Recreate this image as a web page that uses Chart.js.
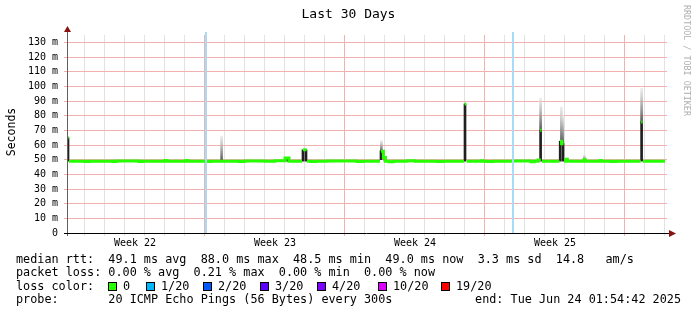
<!DOCTYPE html>
<html>
<head>
<meta charset="utf-8">
<script src="https://cdn.jsdelivr.net/npm/chart.js@4.4.1/dist/chart.umd.min.js"></script>
<style>
html, body { margin: 0; padding: 0; background: #fff; }
#wrap { position: relative; width: 697px; height: 315px; overflow: hidden; font-family: "DejaVu Sans Mono", monospace; color: #000; }
#c { position: absolute; left: 0; top: 0; }
.t { position: absolute; white-space: pre; line-height: 14px; font-size: 11.8px; }
.box { position: absolute; width: 7px; height: 7px; border: 1px solid #000; }
</style>
</head>
<body>
<div id="wrap">
  <canvas id="c" width="697" height="315"></canvas>
  <div class="t" style="left:0;width:697px;top:6px;text-align:center;font-size:13px;line-height:16px;">Last 30 Days</div>
  <div class="t" style="left:-19px;top:125px;width:60px;text-align:center;font-size:11.5px;transform:rotate(-90deg);">Seconds</div>
  <div class="t" style="left:682px;top:5px;font-size:8.4px;line-height:10px;color:#b0b0b0;writing-mode:vertical-rl;">RRDTOOL / TOBI OETIKER</div>
  <div id="legend"></div>
</div>
<script>
// time axis in days since start of graph (20 px per day), values in ms
var medianTimes = [0.00, 0.08, 0.08, 0.10, 0.90, 1.10, 2.30, 2.45, 3.60, 3.75, 4.90, 5.00, 5.95, 6.05, 7.00, 7.20,
    8.60, 8.85, 9.90, 10.40, 10.90, 11.10, 11.75, 11.75, 11.80, 11.98, 11.98, 12.00, 12.20, 12.45, 13.00, 14.50,
    14.80, 15.65, 15.65, 15.70, 15.82, 15.92, 16.10, 16.30, 17.00, 17.40, 18.50, 18.80, 19.85, 19.85, 19.88, 19.96,
    19.96, 19.98, 20.70, 20.80, 21.00, 21.30, 22.30, 23.20, 23.35, 23.55, 23.62, 23.64, 23.66, 23.73, 23.73, 23.75,
    24.62, 24.62, 24.65, 24.73, 24.83, 24.83, 24.85, 24.95, 25.02, 25.85, 25.92, 26.65, 26.72, 27.20, 27.45, 28.68,
    28.68, 28.71, 28.78, 28.78, 28.80, 29.90];
var medianValues = [65.0, 65.0, null, 49.0, 48.7, 49.0, 48.8, 49.1, 48.7, 49.0, 49.5, 48.9, 49.4, 49.0, 48.8, 49.0,
    48.7, 49.1, 48.9, 49.2, 51.2, 49.0, 49.0, null, 56.7, 56.7, null, 49.0, 48.8, 49.0, 49.1, 48.8,
    49.0, 49.0, null, 55.8, 51.5, 49.0, 48.6, 49.0, 49.2, 49.0, 48.8, 49.0, 49.0, null, 88.0, 88.0,
    null, 49.0, 49.3, 49.0, 48.8, 49.0, 49.1, 48.6, 49.0, 49.7, 49.0, null, 70.0, 70.0, null, 49.0,
    49.0, null, 62.6, 60.8, 60.8, null, 49.0, 50.2, 49.0, 50.0, 49.0, 49.4, 49.0, 48.8, 49.0, 49.0,
    null, 75.7, 75.7, null, 49.0, 49.0];

// dense smoke (ping spread around the median)
var darkTimes = [0.05, 5.98, 11.03, 11.80, 11.95, 15.70, 15.90, 19.90, 23.68, 24.66, 24.80, 28.73];
var darkLow   = [49.0, 48.6, 49.0, 49.0, 49.0, 50.0, 49.0, 49.0, 49.0, 49.0, 49.0, 49.0];
var darkHigh  = [65.0, 50.0, 51.2, 56.7, 56.7, 56.0, 52.0, 88.0, 70.0, 62.6, 61.0, 75.7];

// light smoke (outer pings)
var smokeTimes = [7.73, 15.72, 23.68, 24.72, 24.78, 25.87, 28.73];
var smokeLow   = [49.0, 55.8, 70.0, 61.0, 61.0, 49.5, 75.7];
var smokeHigh  = [66.0, 63.0, 92.0, 86.0, 80.0, 53.0, 98.6];

var markerDays = [6.95, 22.30];
var dayLines = [];
for (var d = 0.85; d < 30; d += 1) dayLines.push(Math.round(d * 100) / 100);
var weekLines = [6.85, 13.85, 20.85, 27.85];
var weekLabelPos = [3.4, 10.4, 17.4, 24.4];
var weekLabels = ["Week 22", "Week 23", "Week 24", "Week 25"];

var lossLabels = ["0", "1/20", "2/20", "3/20", "4/20", "10/20", "19/20"];
var lossColors = ["#26ff00", "#00b8ff", "#0059ff", "#5e00ff", "#7e00ff", "#dd00ff", "#ff0000"];

var legendLines = [
    [[16, "median rtt:  49.1 ms avg  88.0 ms max  48.5 ms min  49.0 ms now  3.3 ms sd  14.8   am/s"]],
    [[16, "packet loss: 0.00 % avg  0.21 % max  0.00 % min  0.00 % now"]],
    [[16, "loss color:"]],
    [[16, "probe:       20 ICMP Echo Pings (56 Bytes) every 300s"]]
];
var endText = "end: Tue Jun 24 01:54:42 2025";
var lossBoxX = [108, 146, 203, 260, 317, 378, 441];

// legend text
var legend = document.getElementById("legend");
function addText(x, y, s, right) {
    var el = document.createElement("div");
    el.className = "t";
    if (right) el.style.right = x + "px"; else el.style.left = x + "px";
    el.style.top = y + "px";
    el.textContent = s;
    legend.appendChild(el);
}
legendLines.forEach(function (line, i) {
    line.forEach(function (item) { addText(item[0], 252 + i * 13.4, item[1]); });
});
addText(16, 252 + 3 * 13.4, endText, true);
lossLabels.forEach(function (lab, i) {
    var b = document.createElement("div");
    b.className = "box";
    b.style.left = lossBoxX[i] + "px";
    b.style.top = (252 + 2 * 13.4 + 3) + "px";
    b.style.background = lossColors[i];
    legend.appendChild(b);
    addText(lossBoxX[i] + 15, 252 + 2 * 13.4, lab);
});

function pts(ts, vs) { return ts.map(function (t, i) { return { x: t, y: vs[i] }; }); }
function bars(ts, lo, hi) { return ts.map(function (t, i) { return { x: t, y: [lo[i], hi[i]] }; }); }

var decor = {
    id: "decor",
    afterDatasetsDraw: function (chart) {
        var ctx = chart.ctx, a = chart.chartArea, x = chart.scales.x;
        ctx.save();
        ctx.strokeStyle = "#a8dcf4";
        ctx.lineWidth = 2;
        markerDays.forEach(function (d) {
            var px = x.getPixelForValue(d);
            ctx.beginPath(); ctx.moveTo(px, a.top - 3); ctx.lineTo(px, a.bottom); ctx.stroke();
        });
        ctx.restore();
    },
    afterDraw: function (chart) {
        var ctx = chart.ctx, a = chart.chartArea;
        ctx.save();
        ctx.lineWidth = 1;
        ctx.strokeStyle = "#606060";
        ctx.beginPath(); ctx.moveTo(a.left + 0.5, a.bottom + 3); ctx.lineTo(a.left + 0.5, a.top - 6); ctx.stroke();
        ctx.strokeStyle = "#000";
        ctx.beginPath(); ctx.moveTo(a.left - 3, a.bottom + 0.5); ctx.lineTo(a.right + 2, a.bottom + 0.5); ctx.stroke();
        ctx.fillStyle = "#8b1010";
        ctx.beginPath(); ctx.moveTo(a.left + 0.5, a.top - 9); ctx.lineTo(a.left - 3, a.top - 3); ctx.lineTo(a.left + 4, a.top - 3); ctx.closePath(); ctx.fill();
        ctx.beginPath(); ctx.moveTo(a.right + 9, a.bottom + 0.5); ctx.lineTo(a.right + 2, a.bottom - 3); ctx.lineTo(a.right + 2, a.bottom + 4); ctx.closePath(); ctx.fill();
        ctx.restore();
    }
};

var GRID = "#e2e2e2";
var MGRID = "#f2b0b0";

new Chart(document.getElementById("c"), {
    type: "line",
    data: {
        datasets: [{
            type: "bar",
            data: bars(smokeTimes, smokeLow, smokeHigh),
            grouped: false,
            barThickness: 2,
            order: 3,
            backgroundColor: function (c) {
                var chart = c.chart;
                if (!chart.chartArea || !c.raw) return "#aaaaaa";
                var lo = chart.scales.y.getPixelForValue(c.raw.y[0]);
                var hi = chart.scales.y.getPixelForValue(c.raw.y[1]);
                var g = chart.ctx.createLinearGradient(0, lo, 0, hi);
                g.addColorStop(0, "#555555");
                g.addColorStop(1, "rgba(230,230,230,0.7)");
                return g;
            }
        }, {
            type: "bar",
            data: bars(darkTimes, darkLow, darkHigh),
            grouped: false,
            barThickness: 2,
            order: 2,
            backgroundColor: "#202020"
        }, {
            type: "line",
            data: pts(medianTimes, medianValues),
            borderColor: "#26ff00",
            borderWidth: 3,
            pointRadius: 0,
            stepped: true,
            spanGaps: false,
            order: 1
        }]
    },
    options: {
        responsive: false,
        animation: false,
        layout: { padding: { top: 35, right: 30, left: 0, bottom: 0 } },
        plugins: { legend: { display: false }, tooltip: { enabled: false }, title: { display: false } },
        scales: {
            x: {
                type: "linear",
                min: 0,
                max: 30,
                offset: false,
                afterFit: function (s) { s.height = 82; },
                afterBuildTicks: function (s) {
                    s.ticks = dayLines.concat(weekLabelPos).map(function (v) { return { value: v }; });
                },
                ticks: {
                    autoSkip: false,
                    maxRotation: 0,
                    padding: 1,
                    color: "#000",
                    font: { family: "DejaVu Sans Mono", size: 10 },
                    callback: function (v) {
                        var i = weekLabelPos.indexOf(v);
                        return i >= 0 ? weekLabels[i] : "";
                    }
                },
                grid: {
                    offset: false,
                    tickLength: 3,
                    color: function (c) {
                        var v = c.tick ? c.tick.value : null;
                        if (weekLabelPos.indexOf(v) >= 0) return "rgba(0,0,0,0)";
                        return weekLines.indexOf(v) >= 0 ? MGRID : GRID;
                    }
                },
                border: { display: false }
            },
            y: {
                min: 0,
                max: 135,
                afterFit: function (s) { s.width = 67; },
                ticks: {
                    stepSize: 5,
                    padding: 6,
                    color: "#000",
                    font: { family: "DejaVu Sans Mono", size: 10 },
                    callback: function (v) {
                        if (v % 10 !== 0) return "";
                        return v === 0 ? "0" : v + " m";
                    }
                },
                grid: {
                    tickLength: 3,
                    color: function (c) {
                        var v = c.tick ? c.tick.value : 0;
                        if (v === 0) return "rgba(0,0,0,0)";
                        return v % 10 === 0 ? MGRID : GRID;
                    }
                },
                border: { display: false }
            }
        }
    },
    plugins: [decor]
});
</script>
</body>
</html>
